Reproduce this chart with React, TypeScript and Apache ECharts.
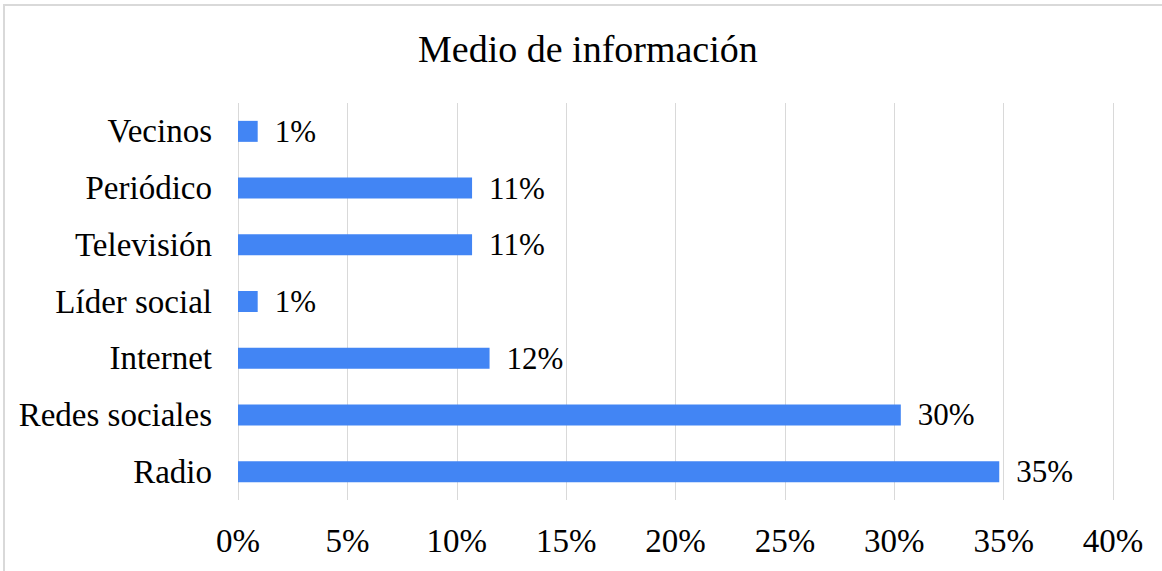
import React, { useEffect, useRef } from "react";
import * as echarts from "echarts";

const categories = ["Radio", "Redes sociales", "Internet", "Líder social", "Televisión", "Periódico", "Vecinos"];
const values = [34.8, 30.3, 11.5, 0.9, 10.7, 10.7, 0.9];
const labels = ["35%", "30%", "12%", "1%", "11%", "11%", "1%"];
const xTicks = [0, 5, 10, 15, 20, 25, 30, 35, 40];

const FONT = "Liberation Serif";

export default function App() {
  const ref = useRef<HTMLDivElement>(null);
  useEffect(() => {
    if (!ref.current) return;
    const chart = echarts.init(ref.current, undefined, { renderer: "svg" });
    chart.setOption({
      animation: false,
      backgroundColor: "#ffffff",
      textStyle: { fontFamily: FONT },
      title: {
        text: "Medio de información",
        left: 413,
        top: 25,
        textStyle: { fontFamily: FONT, fontSize: 38, fontWeight: "normal", color: "#000" },
      },
      graphic: [
        {
          type: "rect",
          shape: { x: 4, y: 5, width: 1170, height: 580 },
          style: { fill: "none", stroke: "#d9d9d9", lineWidth: 2 },
          silent: true,
        },
      ],
      grid: { left: 238, right: 49, top: 103, bottom: 71, containLabel: false },
      xAxis: {
        type: "value",
        min: 0,
        max: 40,
        interval: 5,
        axisLine: { show: false },
        axisTick: { show: false },
        splitLine: { show: true, lineStyle: { color: "#d9d9d9", width: 1 } },
        axisLabel: {
          fontFamily: FONT,
          fontSize: 33,
          color: "#000",
          margin: 24,
          formatter: (v: number) => (xTicks.includes(v) ? v + "%" : ""),
        },
      },
      yAxis: {
        type: "category",
        data: categories,
        axisLine: { show: false },
        axisTick: { show: false },
        axisLabel: { fontFamily: FONT, fontSize: 33, color: "#000", margin: 26 },
      },
      series: [
        {
          type: "bar",
          data: values,
          barWidth: 21,
          itemStyle: { color: "#4285f4" },
          label: {
            show: true,
            position: "right",
            distance: 17,
            fontFamily: FONT,
            fontSize: 31,
            color: "#000",
            formatter: (p: any) => labels[p.dataIndex],
          },
        },
      ],
    });
    return () => chart.dispose();
  }, []);
  return <div ref={ref} style={{ position: "fixed", left: 0, top: 0, width: 1162, height: 571 }} />;
}
